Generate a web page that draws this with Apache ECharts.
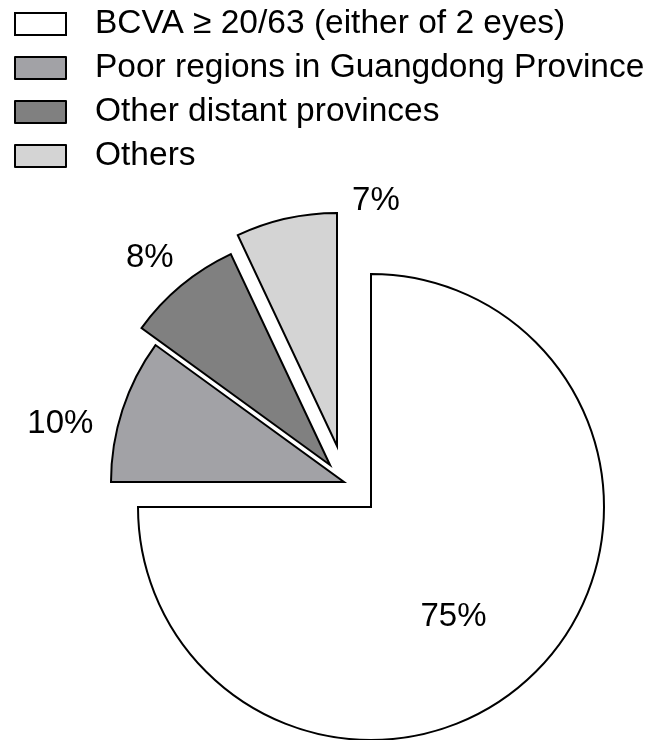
<!DOCTYPE html>
<html>
<head>
<meta charset="utf-8">
<script src="https://cdn.jsdelivr.net/npm/echarts@6/dist/echarts.min.js"></script>
<style>
  html, body { margin: 0; padding: 0; background: #fff; }
  #chart { width: 650px; height: 740px; }
</style>
</head>
<body>
<div id="chart"></div>
<script>
const categories = ['BCVA ≥ 20/63 (either of 2 eyes)', 'Poor regions in Guangdong Province', 'Other distant provinces', 'Others']
const shares = [75, 10, 8, 7]
const fills = ['#ffffff', '#a2a2a6', '#808080', '#d4d4d4']

// how far each slice is pulled out of the pie (px), and label nudges
const explode = [[0, 0], [-27, -25], [-41, -42], [-34, -61]]
const labelNudge = [[-2, 25], [-170, -21], [-104, -115], [65, -128]]
const pieCenter = [371, 507]
const font = 'Liberation Sans, Arial, sans-serif'

let myChart = echarts.init(document.getElementById('chart'))

// one pie per slice so every slice can be pulled out by its own amount
let series = categories.map((cat, i) => ({
  type: 'pie',
  silent: true,
  center: [pieCenter[0] + explode[i][0], pieCenter[1] + explode[i][1]],
  radius: 233,
  startAngle: 90,
  clockwise: true,
  avoidLabelOverlap: false,
  emphasis: { disabled: true },
  labelLine: { show: false },
  labelLayout: params => ({ dx: labelNudge[params.dataIndex][0], dy: labelNudge[params.dataIndex][1] }),
  data: categories.map((name, j) => ({
    name: name,
    value: shares[j],
    itemStyle: j === i
      ? { color: fills[j], borderColor: '#000', borderWidth: 2, borderJoin: 'miter' }
      : { color: 'transparent', borderWidth: 0 },
    label: {
      show: j === i,
      position: 'inside',
      formatter: '{c}%',
      color: '#000',
      fontFamily: font,
      fontSize: 33
    }
  }))
}))

let option = {
  animation: false,
  backgroundColor: '#fff',
  legend: {
    orient: 'vertical',
    left: 14,
    top: 7,
    padding: 0,
    icon: 'rect',
    itemWidth: 51,
    itemHeight: 22,
    itemGap: 10,
    selectedMode: false,
    textStyle: { fontFamily: font, fontSize: 33.5, lineHeight: 34, color: '#000', padding: [0, 0, 0, 24] },
    data: categories.map((name, j) => ({
      name: name,
      itemStyle: { color: fills[j], borderColor: '#000', borderWidth: 2 }
    }))
  },
  series: series
}
option && myChart.setOption(option)
</script>
</body>
</html>
